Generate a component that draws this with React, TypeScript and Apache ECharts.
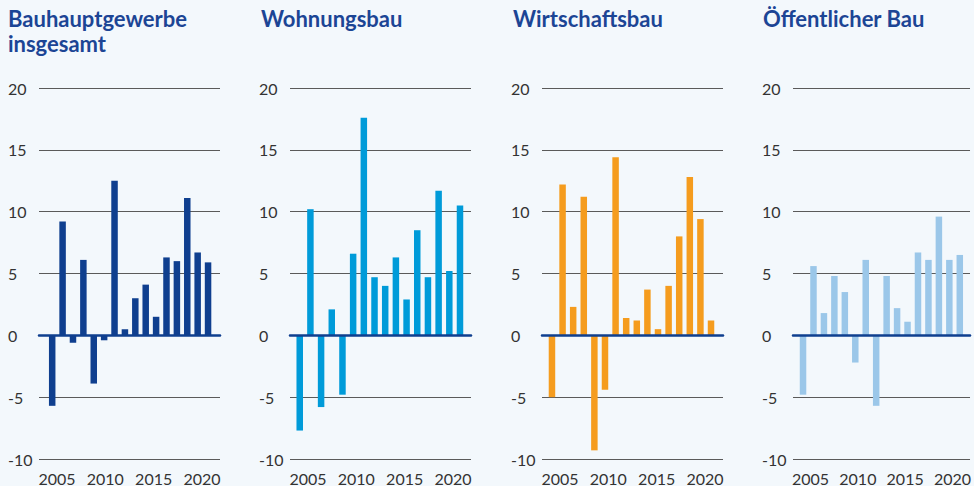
import React, { useEffect, useRef } from "react";
import * as echarts from "echarts";

const years = [2005, 2006, 2007, 2008, 2009, 2010, 2011, 2012, 2013, 2014, 2015, 2016, 2017, 2018, 2019, 2020];
const tickYears = [2005, 2010, 2015, 2020];
const yTicks = { min: -10, max: 20, step: 5 };

const titles = ["Bauhauptgewerbe\ninsgesamt", "Wohnungsbau", "Wirtschaftsbau", "Öffentlicher Bau"];
const bauhauptgewerbe = [-5.7, 9.2, -0.6, 6.1, -3.9, -0.4, 12.5, 0.5, 3.0, 4.1, 1.5, 6.3, 6.0, 11.1, 6.7, 5.9];
const wohnungsbau = [-7.7, 10.2, -5.8, 2.1, -4.8, 6.6, 17.6, 4.7, 4.0, 6.3, 2.9, 8.5, 4.7, 11.7, 5.2, 10.5];
const wirtschaftsbau = [-5.0, 12.2, 2.3, 11.2, -9.3, -4.4, 14.4, 1.4, 1.2, 3.7, 0.5, 4.0, 8.0, 12.8, 9.4, 1.2];
const oeffentlicherBau = [-4.8, 5.6, 1.8, 4.8, 3.5, -2.2, 6.1, -5.7, 4.8, 2.2, 1.1, 6.7, 6.1, 9.6, 6.1, 6.5];

const seriesValues = [bauhauptgewerbe, wohnungsbau, wirtschaftsbau, oeffentlicherBau];
const colors = ["#0f3f8f", "#009bd9", "#f59c1e", "#9bc7e9"];

// layout
const gridLefts = [39, 290, 542, 793];
const gridWidth = 181;
const gridTop = 88;
const gridHeight = 371;
const titleLefts = [8, 261, 513, 763];
const barRanges = [
  [2003.73, 2021.15],
  [2004.09, 2021.03],
  [2004.06, 2021.13],
  [2004.04, 2020.98],
];
const labelRange = [2003.14, 2021.86];
const FONT = "Lato, 'Noto Sans', sans-serif";

export default function App() {
  const ref = useRef<HTMLDivElement>(null);
  useEffect(() => {
    if (!ref.current) return;
    const chart = echarts.init(ref.current, undefined, { renderer: "svg" });
    const grid = gridLefts.map((l) => ({ left: l, top: gridTop, width: gridWidth, height: gridHeight }));
    const xAxis: any[] = [];
    const yAxis: any[] = [];
    const series: any[] = [];
    gridLefts.forEach((_, i) => {
      xAxis.push({
        gridIndex: i,
        type: "value",
        min: barRanges[i][0],
        max: barRanges[i][1],
        z: 10,
        axisLine: { show: true, onZero: true, lineStyle: { color: "#0f3f8f", width: 2.5 } },
        axisTick: { show: false },
        axisLabel: { show: false },
        splitLine: { show: false },
      });
      xAxis.push({
        gridIndex: i,
        type: "value",
        position: "bottom",
        min: labelRange[0],
        max: labelRange[1],
        axisLine: { show: false, onZero: false },
        axisTick: { show: false },
        splitLine: { show: false },
        axisLabel: {
          customValues: tickYears,
          formatter: (v: number) => String(v),
          fontSize: 16,
          color: "#333",
          margin: 11,
          fontFamily: FONT,
        },
      });
      yAxis.push({
        gridIndex: i,
        type: "value",
        min: yTicks.min,
        max: yTicks.max,
        interval: yTicks.step,
        axisLine: { show: false },
        axisTick: { show: false },
        axisLabel: { align: "left", margin: 31, fontSize: 16, color: "#333", fontFamily: FONT },
        splitLine: { lineStyle: { color: "#5a5a5a", width: 1 } },
      });
      series.push({
        type: "bar",
        xAxisIndex: 2 * i,
        yAxisIndex: i,
        barWidth: 6.5,
        itemStyle: { color: colors[i] },
        data: years.map((y, j) => [y, seriesValues[i][j]]),
      });
    });
    chart.setOption({
      animation: false,
      backgroundColor: "#f3f8fc",
      title: titles.map((t, i) => ({
        text: t,
        left: titleLefts[i],
        top: 6,
        padding: 0,
        textStyle: { fontSize: 22, fontWeight: "bold", color: "#1c4595", lineHeight: 25, fontFamily: FONT },
      })),
      grid,
      xAxis,
      yAxis,
      series,
    });
    return () => chart.dispose();
  }, []);
  return <div ref={ref} style={{ position: "fixed", left: 0, top: 0, width: 974, height: 486 }} />;
}
